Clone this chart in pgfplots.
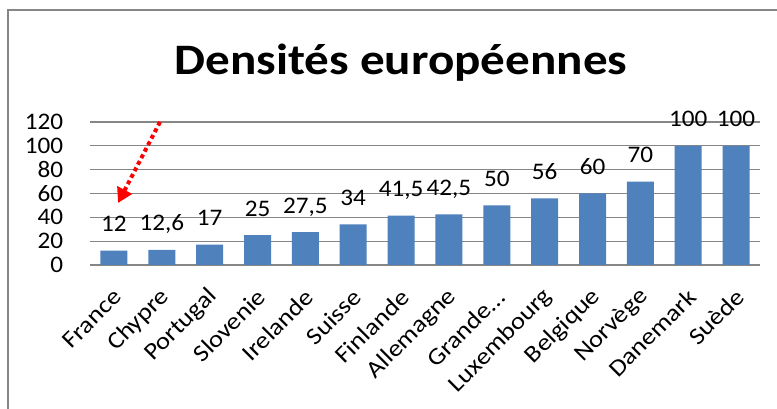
\documentclass[border=0pt]{standalone}
\usepackage{fontspec}
\setmainfont{Carlito}
\newfontfamily\lblfont{Carlito}[FakeStretch=1.13]
\newfontfamily\numfont{Carlito}[FakeStretch=1.06]
\usepackage{pgfplots}
\usepackage{pgfplotstable}
\pgfplotsset{compat=1.18}
\usetikzlibrary{arrows.meta}
\definecolor{barblue}{HTML}{4F81BD}
\definecolor{gridgray}{HTML}{868686}
\pgfplotstableread{
x y lab
0 12 12
1 12.6 12,6
2 17 17
3 25 25
4 27.5 27,5
5 34 34
6 41.5 41,5
7 42.5 42,5
8 50 50
9 56 56
10 60 60
11 70 70
12 100 100
13 100 100
}\densdata
\begin{document}
\begin{tikzpicture}[x=0.75pt,y=0.75pt]
\useasboundingbox (0,0) rectangle (777,409);
\fill[white] (0,0) rectangle (777,409);
\draw[gridgray, line width=1.3pt] (8,0) -- (8,399) -- (777,399);
\node[anchor=base, font=\lblfont\fontsize{32.6}{36}\selectfont\bfseries] at (401,334) {Densités européennes};
\begin{axis}[
  at={(67.5pt,108pt)}, anchor=south west,
  scale only axis, width=502.5pt, height=107.25pt,
  xmin=-0.5, xmax=13.5, ymin=0, ymax=120,
  ytick={0,20,...,120},
  xtick={0,...,13},
  xticklabels={France, Chypre, Portugal, Slovenie, Irelande, Suisse, Finlande, Allemagne, Grande…, Luxembourg, Belgique, Norvège, Danemark, Suède},
  axis x line=bottom, axis y line=left,
  axis line style={-},
  x axis line style={gridgray, line width=1pt},
  y axis line style={draw=none},
  major tick length=0pt,
  ymajorgrids,
  grid style={gridgray, line width=0.9pt},
  /pgf/number format/assume math mode=true,
  tick label style={font=\numfont\fontsize{17.8}{20}\selectfont},
  yticklabel style={anchor=east, inner sep=0pt, xshift=-20pt},
  xticklabel style={font=\lblfont\fontsize{17.8}{20}\selectfont, inner sep=0pt, xshift=3pt, yshift=-21pt, rotate=45, anchor=east},
  clip=false,
]
\addplot[ybar, bar width=20.25pt, fill=barblue, draw=none,
  nodes near coords, point meta=explicit symbolic,
  every node near coord/.append style={font=\numfont\fontsize{17.8}{20}\selectfont, anchor=base, yshift=14.25pt, text=black, inner sep=0pt}]
  table[x=x, y=y, meta=lab] {\densdata};
\end{axis}
\draw[red, line width=3pt, dash pattern=on 3pt off 2.5pt, -{Triangle[length=11pt,width=12pt]}] (160,287) -- (118,206);
\end{tikzpicture}
\end{document}
